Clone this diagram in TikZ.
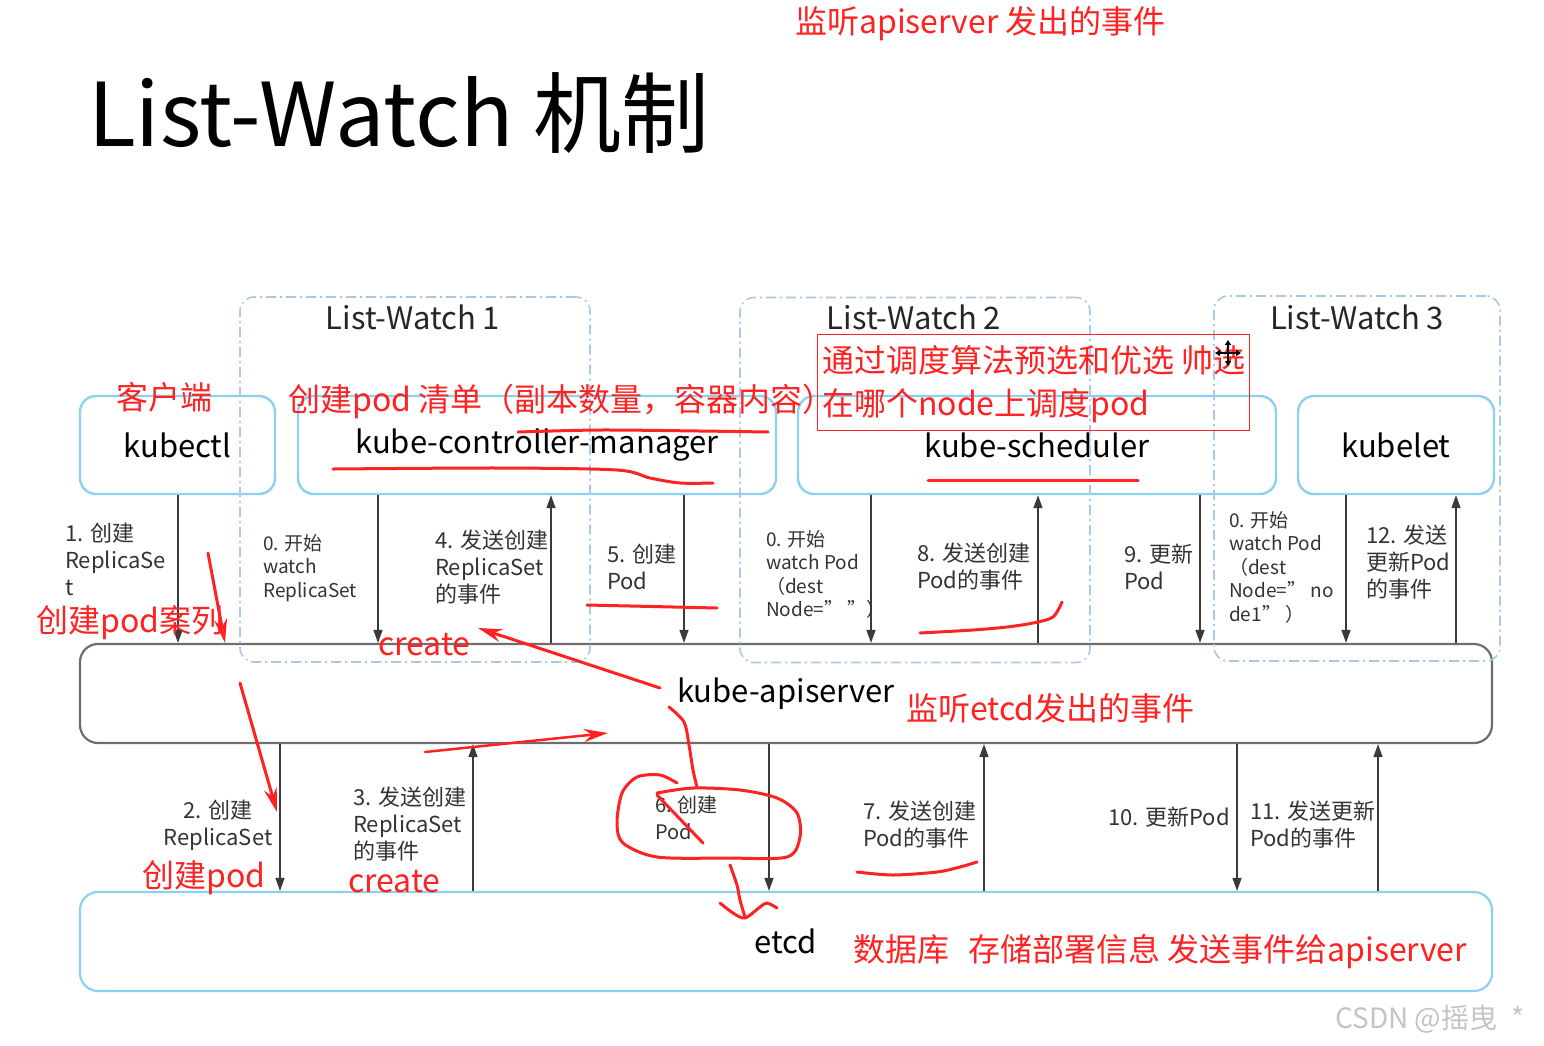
\documentclass[tikz,border=0pt]{standalone}
\usepackage{fontspec}
\setmainfont{Noto Sans CJK SC}
\usetikzlibrary{arrows.meta,calc}
\definecolor{boxblue}{HTML}{8CD2F0}
\definecolor{dashblue}{HTML}{A9C9E8}
\definecolor{apigray}{HTML}{6E6E6E}
\definecolor{arrgray}{HTML}{3A3A3A}
\definecolor{redmark}{HTML}{FF2222}
\definecolor{labc}{HTML}{333333}
\definecolor{wmark}{HTML}{C4C4C4}
\begin{document}
\begin{tikzpicture}[x=1pt,y=-1pt,
  comp/.style={draw=boxblue, line width=2.4pt, rounded corners=16pt, minimum height=98pt, inner sep=0pt, font=\fontsize{31}{36}\selectfont},
  bigbox/.style={line width=2.2pt, rounded corners=18pt, minimum width=1412pt, minimum height=99pt, inner sep=0pt, font=\fontsize{31}{36}\selectfont},
  group/.style={draw=dashblue, line width=1.6pt, dash pattern=on 10pt off 4pt on 2pt off 4pt, rounded corners=14pt, minimum width=350pt, minimum height=365pt, inner sep=0pt},
  lwtitle/.style={font=\fontsize{31}{36}\selectfont, inner sep=0pt, text=black!85},
  flow/.style={draw=arrgray, line width=1.4pt, -{Triangle[length=13pt,width=9pt]}},
  lbl/.style={anchor=north west, align=left, inner sep=0pt, text=labc, font=\fontsize{22}{27}\selectfont},
  lbls/.style={lbl, font=\fontsize{19}{23.5}\selectfont},
  rtext/.style={text=redmark, inner sep=0pt, anchor=west, font=\fontsize{32}{38}\selectfont},
  rline/.style={draw=redmark, line width=3pt, line cap=round, line join=round},
  rarrow/.style={rline, -{Stealth[length=24pt,width=13pt]}}
]
\useasboundingbox (0,0) rectangle (1544,1045);
\fill[white] (0,0) rectangle (1544,1045);

% title
\node[anchor=west, inner sep=0pt, font=\fontsize{88}{100}\selectfont] (title) at (88,113) {List-Watch 机制};
\node[rtext] (topnote) at (795,24) {监听apiserver 发出的事件};

% components
\node[comp, minimum width=195pt] (kubectl) at (177.5,445) {kubectl};
\node[comp, minimum width=478pt] (kcm) at (537,445) {kube-controller-manager};
\node[comp, minimum width=478pt] (ksch) at (1037,445) {kube-scheduler};
\node[comp, minimum width=196pt] (kubelet) at (1396,445) {kubelet};
\node[bigbox, draw=apigray] (api) at (786,693.5) {kube-apiserver};
\node[bigbox, draw=boxblue] (etcd) at (786,941.5) {etcd};

% list-watch groups
\node[group] (lw1) at (415,479.5) {};
\node[group] (lw2) at (915,480) {};
\node[group, minimum width=286pt] (lw3) at (1357,478.5) {};
\node[lwtitle] (lw1t) at (413,317) {List-Watch 1};
\node[lwtitle] (lw2t) at (914,317) {List-Watch 2};
\node[lwtitle] (lw3t) at (1357,317) {List-Watch 3};

% arrow columns
\coordinate (u1) at (178,0);
\coordinate (u2) at (378,0);
\coordinate (u3) at (551,0);
\coordinate (u4) at (684,0);
\coordinate (u5) at (871,0);
\coordinate (u6) at (1038,0);
\coordinate (u7) at (1200,0);
\coordinate (u8) at (1346,0);
\coordinate (u9) at (1456,0);
\coordinate (d1) at (280,0);
\coordinate (d2) at (473,0);
\coordinate (d3) at (769,0);
\coordinate (d4) at (984,0);
\coordinate (d5) at (1237,0);
\coordinate (d6) at (1378,0);

\draw[flow] (kubectl.south -| u1) -- (api.north -| u1);
\draw[flow] (kcm.south -| u2) -- (api.north -| u2);
\draw[flow] (api.north -| u3) -- (kcm.south -| u3);
\draw[flow] (kcm.south -| u4) -- (api.north -| u4);
\draw[flow] (ksch.south -| u5) -- (api.north -| u5);
\draw[flow] (api.north -| u6) -- (ksch.south -| u6);
\draw[flow] (ksch.south -| u7) -- (api.north -| u7);
\draw[flow] (kubelet.south -| u8) -- (api.north -| u8);
\draw[flow] (api.north -| u9) -- (kubelet.south -| u9);

\draw[flow] (api.south -| d1) -- (etcd.north -| d1);
\draw[flow] (etcd.north -| d2) -- (api.south -| d2);
\draw[flow] (api.south -| d3) -- (etcd.north -| d3);
\draw[flow] (etcd.north -| d4) -- (api.south -| d4);
\draw[flow] (api.south -| d5) -- (etcd.north -| d5);
\draw[flow] (etcd.north -| d6) -- (api.south -| d6);

% labels upper
\node[lbl] (l1) at (65,523) {1. 创建\\ReplicaSe\\t};
\node[lbls] (l0a) at (263,534) {0. 开始\\watch\\ReplicaSet};
\node[lbl] (l4) at (435,530) {4. 发送创建\\ReplicaSet\\的事件};
\node[lbl] (l5) at (607,544) {5. 创建\\Pod};
\node[lbls] (l0b) at (766,530) {0. 开始\\watch Pod\\（dest\\Node=” ”）};
\node[lbl] (l8) at (917,543) {8. 发送创建\\Pod的事件};
\node[lbl] (l9) at (1124,544) {9. 更新\\Pod};
\node[lbls] (l0c) at (1229,511) {0. 开始\\watch Pod\\（dest\\Node=” no\\de1” ）};
\node[lbl] (l12) at (1366,525) {12. 发送\\更新Pod\\的事件};
% labels lower
\node[lbl, align=center, anchor=north] (l2) at (218,800) {2. 创建\\ReplicaSet};
\node[lbl] (l3) at (353,787) {3. 发送创建\\ReplicaSet\\的事件};
\node[lbl, font=\fontsize{20}{27}\selectfont] (l6) at (655,795) {6. 创建\\Pod};
\node[lbl] (l7) at (863,801) {7. 发送创建\\Pod的事件};
\node[lbl, anchor=north east] (l10) at (1230,807) {10. 更新Pod};
\node[lbl] (l11) at (1250,801) {11. 发送更新\\Pod的事件};

% red notes
\node[rtext] (n1) at (116,397) {客户端};
\node[rtext] (n2) at (288,401) {创建pod 清单（副本数量，容器内容）};
\node[draw=redmark, line width=1pt, minimum width=432pt, minimum height=96pt, inner sep=0pt] (rbox) at (1033,382) {};
\node[rtext, anchor=north west, align=left, font=\fontsize{32}{43}\selectfont] (n3) at (822,345) {通过调度算法预选和优选 帅选\\在哪个node上调度pod};
\node[rtext] (n4) at (36,623) {创建pod案列};
\node[rtext] (n5) at (378,645) {create};
\node[rtext] (n6) at (142,878) {创建pod};
\node[rtext] (n7) at (348,882) {create};
\node[rtext] (n8) at (906,708) {监听etcd发出的事件};
\node[rtext] (n9) at (853,952) {数据库\hspace{0.6em}存储部署信息 发送事件给apiserver};

% red underlines
\draw[rline] plot[smooth] coordinates {(518,432) (600,430) (700,431) (768,432)};
\draw[rline] plot[smooth] coordinates {(333,469) (500,468) (617,470) (650,478) (680,483) (713,483)};
\draw[rline] (928,480) -- (1138,480);
\draw[rline] (587,605) -- (717,608);
\draw[rline] plot[smooth] coordinates {(920,633) (973,630) (1007,627) (1033,623) (1053,617) (1062,602)};
\draw[rline] plot[smooth] coordinates {(857,872) (893,875) (937,872) (960,867) (977,862)};

% red arrows
\draw[rarrow] (208,553) -- (225,643);
\draw[rarrow] (660,688) -- (478,628);
\draw[rarrow] (240,683) -- (277,812);
\draw[rarrow, line width=2.5pt] (425,752) -- (608,733);

% red loop and strokes
\draw[rline] plot[smooth] coordinates {(669,707) (684,722) (689,745) (693,770) (697,787)};
\draw[rline] plot[smooth] coordinates {(677,783) (660,775) (637,777) (622,793) (617,823) (623,843) (657,857) (727,858) (787,857) (800,837) (797,813) (777,798) (740,790) (693,788) (657,793)};
\draw[rline] (657,795) -- (703,843);
\draw[rline] plot[smooth] coordinates {(730,865) (737,885) (740,900) (745,917)};
\draw[rline] plot[smooth] coordinates {(720,903) (733,913) (745,918) (760,907) (767,903) (777,908)};

% move cursor
\draw[line width=1.3pt, {Triangle[length=5pt,width=6pt]}-{Triangle[length=5pt,width=6pt]}] (1228,340) -- (1228,366);
\draw[line width=1.3pt, {Triangle[length=5pt,width=6pt]}-{Triangle[length=5pt,width=6pt]}] (1215,353) -- (1241,353);

% watermark
\node[anchor=west, inner sep=0pt, text=wmark, font=\fontsize{28}{32}\selectfont] (wm) at (1335,1019) {CSDN @摇曳\hspace{0.5em}*};
\end{tikzpicture}
\end{document}
